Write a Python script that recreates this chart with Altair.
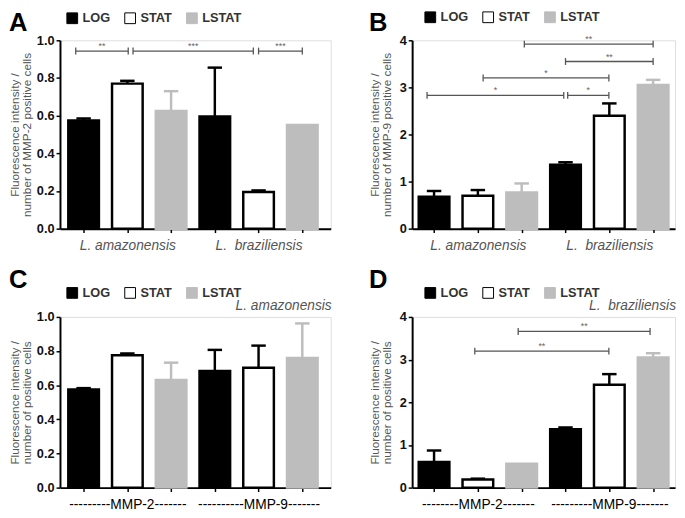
import json
import altair as alt
import pandas as pd

FONT = "Liberation Sans"

GROUPS = ["LOG", "STAT", "LSTAT"]
FILLS = ["#000000", "#ffffff", "#bdbdbd"]
STROKES = ["#000000", "#000000", "#bdbdbd"]
POSITIONS = [0, 1, 2, 3, 4, 5]
BAR_GROUPS = GROUPS * 2

# Panel A: MMP-2 by species
A_MEAN = [0.575, 0.77, 0.625, 0.595, 0.195, 0.55]
A_TOP = [0.585, 0.785, 0.73, 0.855, 0.203, None]
A_XLABELS = ["L. amazonensis", "L.\u00a0 braziliensis"]
A_BR_X1 = [-0.18, 1.13, 4.0]
A_BR_X2 = [1.02, 3.88, 5.0]
A_BR_Y = [0.943, 0.943, 0.943]
A_BR_LAB = ["**", "***", "***"]

# Panel B: MMP-9 by species
B_MEAN = [0.68, 0.70, 0.77, 1.36, 2.40, 3.05]
B_TOP = [0.80, 0.82, 0.96, 1.41, 2.66, 3.16]
B_XLABELS = ["L. amazonensis", "L.\u00a0 braziliensis"]
B_BR_X1 = [2.06, 3.0, 1.12, -0.16, 3.05]
B_BR_X2 = [5.0, 5.0, 3.99, 2.96, 3.99]
B_BR_Y = [3.92, 3.55, 3.2, 2.83, 2.83]
B_BR_LAB = ["**", "**", "*", "*", "*"]

# Panel C: L. amazonensis, MMP-2 vs MMP-9
C_MEAN = [0.575, 0.775, 0.63, 0.683, 0.702, 0.759]
C_TOP = [0.583, 0.786, 0.732, 0.807, 0.832, 0.962]
C_XLABELS = ["---------MMP-2-------", "----------MMP-9-------"]

# Panel D: L. braziliensis, MMP-2 vs MMP-9
D_MEAN = [0.60, 0.19, 0.56, 1.37, 2.41, 3.05]
D_TOP = [0.87, 0.21, None, 1.41, 2.66, 3.15]
D_XLABELS = ["--------MMP-2-------", "---------MMP-9-------"]
D_BR_X1 = [1.92, 0.93]
D_BR_X2 = [4.93, 3.99]
D_BR_Y = [3.66, 3.2]
D_BR_LAB = ["**", "**"]

YTITLE_2 = ["Fluorescence intensity /", "number of MMP-2 positive cells"]
YTITLE_9 = ["Fluorescence intensity /", "number of MMP-9 positive cells"]
YTITLE_P = ["Fluorescence intensity /", "number of  positive cells"]


def panel(mean, top, xlabels, ymax, yvals, yfmt, ytitle, width, height, xdom,
          letter, letter_xy, legend_xy, title_pad, italic,
          brackets=None, subtitle=None):
    bars = pd.DataFrame({"pos": POSITIONS, "group": BAR_GROUPS,
                         "mean": mean, "top": top})
    xscale = alt.Scale(domain=xdom, nice=False, zero=False)
    yscale = alt.Scale(domain=[0, ymax], nice=False, padding=0)
    expr = ("datum.value == 1 ? " + json.dumps(xlabels[0], ensure_ascii=False)
            + " : datum.value == 4 ? " + json.dumps(xlabels[1], ensure_ascii=False)
            + " : ''")
    xaxis = alt.Axis(values=POSITIONS, labelExpr=expr, labelOverlap=False,
                     title=None, grid=False, labelFontSize=14,
                     labelFontStyle="italic" if italic else "normal",
                     labelColor="#555555" if italic else "#000000",
                     labelPadding=6, domainColor="black", domainWidth=2,
                     tickColor="black", tickWidth=1.5, tickSize=4,
                     labelFont=FONT)
    yaxis = alt.Axis(values=yvals, format=yfmt, title=ytitle, grid=False,
                     labelOverlap=False,
                     titleFontSize=12, titleColor="#555555",
                     titleFontWeight="normal", titlePadding=title_pad,
                     titleLineHeight=12, titleFont=FONT,
                     labelFontSize=13, labelFontWeight="bold",
                     labelColor="#111111", labelPadding=2, labelFont=FONT,
                     domainColor="black", domainWidth=2,
                     tickColor="black", tickWidth=1.5, tickSize=4)

    def X(field):
        return alt.X(field, scale=xscale, axis=xaxis)

    def Y(field):
        return alt.Y(field, scale=yscale, axis=yaxis)

    legend = alt.Legend(orient="none", legendX=legend_xy[0],
                        legendY=legend_xy[1], direction="horizontal",
                        symbolType="square", symbolSize=120,
                        symbolStrokeWidth=1, labelFontSize=13,
                        labelFontWeight="bold", labelColor="#333333",
                        labelFont=FONT, columnPadding=12, labelOffset=4,
                        padding=0)
    fill = alt.Fill("group:N", scale=alt.Scale(domain=GROUPS, range=FILLS),
                    legend=legend, title=None)
    stroke = alt.Stroke("group:N",
                        scale=alt.Scale(domain=GROUPS, range=STROKES),
                        legend=legend, title=None)

    base = alt.Chart(bars)
    bar_layer = base.mark_bar(strokeWidth=2.5).transform_calculate(
        x0="datum.pos - 0.35", x1="datum.pos + 0.35"
    ).encode(
        x=X("x0:Q"), x2="x1:Q", y=Y("mean:Q"), y2=alt.datum(0),
        fill=fill, stroke=stroke,
    )
    err = base.transform_filter("isValid(datum.top)").mark_rule(
        strokeWidth=2.5).encode(
        x=X("pos:Q"), y=Y("mean:Q"), y2="top:Q", stroke=stroke)
    cap = base.transform_filter("isValid(datum.top)").transform_calculate(
        c0="datum.pos - 0.165", c1="datum.pos + 0.165"
    ).mark_rule(strokeWidth=2.5).encode(
        x=X("c0:Q"), x2="c1:Q", y=Y("top:Q"), stroke=stroke)
    layers = [bar_layer, err, cap]

    if brackets is not None:
        bx1, bx2, by, blab = brackets
        br = pd.DataFrame({"x1": bx1, "x2": bx2, "y": by, "lab": blab})
        ends = pd.DataFrame({"x": list(bx1) + list(bx2),
                             "y": list(by) + list(by)})
        layers.append(alt.Chart(br).mark_rule(
            color="#555555", strokeWidth=1.3).encode(
            x=X("x1:Q"), x2="x2:Q", y=Y("y:Q")))
        layers.append(alt.Chart(ends).mark_rule(
            color="#555555", strokeWidth=1.3, yOffset=-3.5,
            y2Offset=3.5).encode(x=X("x:Q"), y=Y("y:Q"), y2="y:Q"))
        layers.append(alt.Chart(br).transform_calculate(
            xm="(datum.x1 + datum.x2) / 2").mark_text(
            fontSize=9, color="#666666", dy=-5, font=FONT).encode(
            x=X("xm:Q"), y=Y("y:Q"), text="lab:N"))

    if subtitle is not None:
        layers.append(alt.Chart(pd.DataFrame({"t": [subtitle]})).mark_text(
            align="right", baseline="alphabetic", fontSize=14,
            fontStyle="italic", color="#555555", font=FONT).encode(
            x=alt.value(width + 1), y=alt.value(-7), text="t:N"))

    layers.append(alt.Chart(pd.DataFrame({"t": [letter]})).mark_text(
        align="left", baseline="alphabetic", fontSize=26, fontWeight="bold",
        color="black", font=FONT).encode(
        x=alt.value(letter_xy[0]), y=alt.value(letter_xy[1]), text="t:N"))

    return alt.layer(*layers).properties(width=width, height=height)


panel_a = panel(A_MEAN, A_TOP, A_XLABELS, 1.0, [0, 0.2, 0.4, 0.6, 0.8, 1.0],
                ".1f", YTITLE_2, 276, 192, [-0.54, 5.65], "A", (-52, -10),
                (6, -29), 3, True,
                brackets=(A_BR_X1, A_BR_X2, A_BR_Y, A_BR_LAB))
panel_b = panel(B_MEAN, B_TOP, B_XLABELS, 4, [0, 1, 2, 3, 4], "d", YTITLE_9,
                268, 192, [-0.5, 5.5], "B", (-44, -10), (12, -30), 6, True,
                brackets=(B_BR_X1, B_BR_X2, B_BR_Y, B_BR_LAB))
panel_c = panel(C_MEAN, C_TOP, C_XLABELS, 1.0, [0, 0.2, 0.4, 0.6, 0.8, 1.0],
                ".1f", YTITLE_P, 276, 174, [-0.54, 5.65], "C", (-52, -30),
                (6, -31), 3, False, subtitle="L. amazonensis")
panel_d = panel(D_MEAN, D_TOP, D_XLABELS, 4, [0, 1, 2, 3, 4], "d", YTITLE_P,
                268, 174, [-0.5, 5.5], "D", (-44, -30), (12, -31), 6, False,
                brackets=(D_BR_X1, D_BR_X2, D_BR_Y, D_BR_LAB),
                subtitle="L.\u00a0 braziliensis")

chart = alt.concat(
    panel_a, panel_b, panel_c, panel_d, columns=2,
    spacing={"row": 90, "column": 83}, bounds="flush",
).resolve_scale(
    x="independent", y="independent", fill="independent",
    stroke="independent",
).resolve_legend(fill="independent", stroke="independent").properties(
    padding={"left": 0, "top": -4, "right": 0, "bottom": 0}
).configure_view(stroke=None).configure(font=FONT, background="white")

chart.save("out.html", embed_options={"renderer": "svg", "actions": False})
